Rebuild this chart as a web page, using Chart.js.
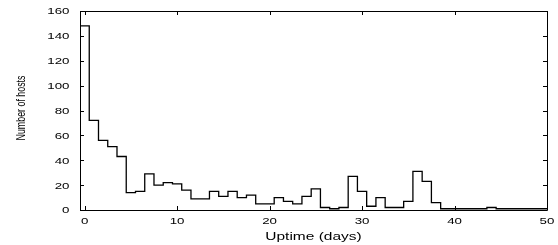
<!DOCTYPE html>
<html>
<head>
<meta charset="utf-8">
<script src="https://cdn.jsdelivr.net/npm/chart.js@4/dist/chart.umd.min.js"></script>
<style>
    html, body { margin: 0; padding: 0; background: #fff; }
    canvas { display: block; }
</style>
</head>
<body>
<canvas id="uptime" width="558" height="245"></canvas>
<script>
// uptime histogram, one bin per day
const DAYS = [0, 1, 2, 3, 4, 5, 6, 7, 8, 9, 10, 11, 12, 13, 14, 15, 16, 17, 18, 19,
    20, 21, 22, 23, 24, 25, 26, 27, 28, 29, 30, 31, 32, 33, 34, 35, 36, 37, 38, 39,
    40, 41, 42, 43, 44, 45, 46, 47, 48, 49, 50];
const HOSTS = [148, 72, 56, 51, 43, 14, 15, 29, 20, 22, 21, 16, 9, 9, 15, 11, 15, 10, 12, 5,
    5, 10, 7, 5, 11, 17, 2, 1, 2, 27, 15, 3, 10, 2, 2, 7, 31, 23, 6, 1,
    1, 1, 1, 1, 2, 1, 1, 1, 1, 1, 1];
const X_TICKS = [0, 10, 20, 30, 40, 50];
const Y_TICKS = [0, 20, 40, 60, 80, 100, 120, 140, 160];
const X_TITLE = 'Uptime (days)';
const Y_TITLE = 'Number of hosts';

const COLORS = {
    line: '#000',
    frame: '#000',
    text: '#000',
};
const FONT = '"Liberation Sans", Arial, sans-serif';
const BIN_WIDTH = 1;

function binEdges() {
    const points = DAYS.map((d, i) => ({ x: d - BIN_WIDTH / 2, y: HOSTS[i] }));
    const last = DAYS.length - 1;
    points.push({ x: DAYS[last] + BIN_WIDTH / 2, y: HOSTS[last] });
    return points;
}

// gnuplot style frame: box, inward ticks on all sides, stretched labels
const framePlugin = {
    id: 'frame',
    afterDraw(chart) {
        const { ctx, chartArea: a, scales } = chart;
        const tick = 4;
        ctx.save();
        ctx.strokeStyle = COLORS.frame;
        ctx.lineWidth = 1;
        ctx.beginPath();
        ctx.rect(Math.round(a.left) + 0.5, Math.round(a.top) + 0.5,
            Math.round(a.right - a.left), Math.round(a.bottom - a.top));
        X_TICKS.forEach(v => {
            const px = Math.round(scales.x.getPixelForValue(v)) + 0.5;
            ctx.moveTo(px, a.bottom);
            ctx.lineTo(px, a.bottom - tick);
            ctx.moveTo(px, a.top);
            ctx.lineTo(px, a.top + tick);
        });
        Y_TICKS.forEach(v => {
            const py = Math.round(scales.y.getPixelForValue(v)) + 0.5;
            ctx.moveTo(a.left, py);
            ctx.lineTo(a.left + tick, py);
            ctx.moveTo(a.right, py);
            ctx.lineTo(a.right - tick, py);
        });
        ctx.stroke();

        ctx.fillStyle = COLORS.text;
        ctx.font = '9.5px ' + FONT;
        ctx.textBaseline = 'alphabetic';

        ctx.textAlign = 'center';
        X_TICKS.forEach(v => {
            ctx.save();
            ctx.translate(scales.x.getPixelForValue(v), 224);
            ctx.scale(1.4, 1);
            ctx.fillText(String(v), 0, 0);
            ctx.restore();
        });

        ctx.textAlign = 'right';
        Y_TICKS.forEach(v => {
            ctx.save();
            ctx.translate(69.5, scales.y.getPixelForValue(v) + 3.4);
            ctx.scale(1.4, 1);
            ctx.fillText(String(v), 0, 0);
            ctx.restore();
        });

        ctx.textAlign = 'center';
        ctx.font = '10px ' + FONT;
        ctx.save();
        ctx.translate((a.left + a.right) / 2, 239.5);
        ctx.scale(1.55, 1);
        ctx.fillText(X_TITLE, 0, 0);
        ctx.restore();

        ctx.font = '13px ' + FONT;
        ctx.save();
        ctx.translate(25, 108);
        ctx.rotate(-Math.PI / 2);
        ctx.scale(0.68, 1);
        ctx.fillText(Y_TITLE, 0, 0);
        ctx.restore();

        ctx.restore();
    }
};

function initChart(canvasId) {
    const canvas = document.getElementById(canvasId);
    if (!canvas) {
        console.error(`Canvas element "${canvasId}" not found`);
        return null;
    }

    return new Chart(canvas.getContext('2d'), {
        type: 'line',
        data: {
            datasets: [{
                data: binEdges(),
                borderColor: COLORS.line,
                backgroundColor: 'transparent',
                borderWidth: 1.3,
                pointRadius: 0,
                stepped: true,
                tension: 0,
                clip: 0
            }]
        },
        options: {
            responsive: false,
            animation: false,
            devicePixelRatio: 1,
            layout: {
                padding: { left: 0, right: 11, top: 11, bottom: 0 }
            },
            plugins: {
                legend: { display: false },
                tooltip: { enabled: false }
            },
            scales: {
                x: {
                    type: 'linear',
                    min: -0.5,
                    max: 50,
                    grid: { display: false },
                    border: { display: false },
                    ticks: { display: false },
                    afterBuildTicks: scale => {
                        scale.ticks = X_TICKS.map(v => ({ value: v }));
                    },
                    afterFit: scale => { scale.height = 35; }
                },
                y: {
                    type: 'linear',
                    min: 0,
                    max: 160,
                    grid: { display: false },
                    border: { display: false },
                    ticks: { display: false },
                    afterBuildTicks: scale => {
                        scale.ticks = Y_TICKS.map(v => ({ value: v }));
                    },
                    afterFit: scale => { scale.width = 80; }
                }
            }
        },
        plugins: [framePlugin]
    });
}

initChart('uptime');
</script>
</body>
</html>
